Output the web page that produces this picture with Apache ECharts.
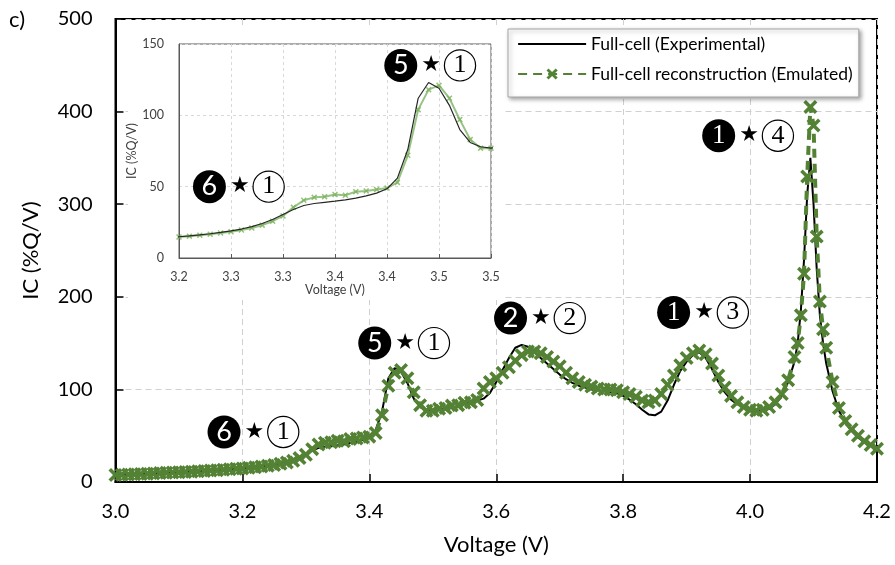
<!DOCTYPE html>
<html>
<head>
<meta charset="utf-8">
<script src="https://cdn.jsdelivr.net/npm/echarts@6/dist/echarts.min.js"></script>
<style>
  html, body { margin: 0; padding: 0; background: #fff; }
  #chart { width: 895px; height: 565px; }
</style>
</head>
<body>
<div id="chart"></div>
<script>
// Incremental capacity of the full cell, experimental vs emulated reconstruction
const voltage = [
  3.00, 3.01, 3.02, 3.03, 3.04, 3.05, 3.06, 3.07, 3.08, 3.09,
  3.10, 3.11, 3.12, 3.13, 3.14, 3.15, 3.16, 3.17, 3.18, 3.19,
  3.20, 3.21, 3.22, 3.23, 3.24, 3.25, 3.26, 3.27, 3.28, 3.29,
  3.30, 3.31, 3.32, 3.33, 3.34, 3.35, 3.36, 3.37, 3.38, 3.39,
  3.40, 3.41, 3.42, 3.43, 3.44, 3.45, 3.46, 3.47, 3.48, 3.49,
  3.50, 3.51, 3.52, 3.53, 3.54, 3.55, 3.56, 3.57, 3.58, 3.59,
  3.60, 3.61, 3.62, 3.63, 3.64, 3.65, 3.66, 3.67, 3.68, 3.69,
  3.70, 3.71, 3.72, 3.73, 3.74, 3.75, 3.76, 3.77, 3.78, 3.79,
  3.80, 3.81, 3.82, 3.83, 3.84, 3.85, 3.86, 3.87, 3.88, 3.89,
  3.90, 3.91, 3.92, 3.93, 3.94, 3.95, 3.96, 3.97, 3.98, 3.99,
  4.00, 4.01, 4.02, 4.03, 4.04, 4.05, 4.06,
  4.07, 4.075, 4.08, 4.085, 4.09, 4.095, 4.10, 4.105, 4.11, 4.115, 4.12,
  4.13, 4.14, 4.15, 4.16, 4.17, 4.18, 4.19, 4.20,
  4.20
];

// Full-cell (Experimental), %Q/V
const icExperimental = [
  7.5, 7.8, 8.1, 8.4, 8.7, 9.0, 9.3, 9.6, 9.9, 10.2,
  10.5, 10.9, 11.3, 11.7, 12.1, 12.5, 12.9, 13.3, 13.8, 14.3,
  14.9, 15.5, 16.2, 17.0, 17.9, 19.0, 20.3, 22.0, 24.2, 27.0,
  30.5, 34.0, 36.8, 38.2, 39.0, 39.8, 40.8, 42.0, 43.5, 45.5,
  48.5, 56.0, 76.0, 112.0, 123.0, 119.0, 107.0, 90.0, 81.0, 78.0,
  77.0, 78.0, 79.0, 80.5, 82.0, 84.0, 86.0, 88.0, 90.0, 96.0,
  108, 121, 134, 145, 148, 146, 140, 134, 128, 122,
  116, 111, 107, 104, 102, 100, 99, 98, 97, 96,
  93, 89, 84, 78, 73, 72, 76, 88, 105, 120,
  130, 137, 140, 134, 122, 108, 97, 89, 84, 80,
  78, 77, 77, 79, 84, 93, 108,
  130, 150, 185, 240, 310, 350, 300, 230, 180, 150, 128,
  98, 77, 64, 55, 48, 43, 39, 35,
  0
];

// Full-cell reconstruction (Emulated), %Q/V
const icEmulated = [
  7.5, 7.8, 8.1, 8.4, 8.7, 9.0, 9.3, 9.6, 9.9, 10.2,
  10.5, 10.9, 11.2, 11.6, 12.0, 12.4, 12.8, 13.2, 13.7, 14.2,
  14.7, 15.3, 16.0, 16.7, 17.5, 18.4, 19.6, 21.0, 23.0, 25.8,
  29.5, 35.5, 40.5, 42.5, 43.0, 44.5, 44.0, 46.5, 47.0, 48.0,
  49.0, 53.0, 72.0, 104.0, 118.0, 121.0, 112.0, 97.0, 83.0, 77.0,
  77.0, 79.0, 80.0, 82.5, 83.0, 85.5, 86.0, 88.5, 101.0, 108.0,
  112, 118, 124, 131, 137, 141, 141, 139, 135, 130,
  125, 118, 112, 108, 105, 103, 101, 100, 100, 99,
  97, 95, 92, 88, 86, 88, 95, 105, 115, 126,
  134, 139, 142, 138, 128, 115, 102, 93, 86, 81,
  78, 77, 78, 81, 86, 95, 110,
  135, 150, 180, 225, 330, 405, 385, 265, 195, 165, 145,
  108, 80, 66, 57, 50, 44, 40, 36,
  null
];

const mainYTicks = [0, 100, 200, 300, 400, 500];
const insetTickLabels = ['3.2', '3.3', '3.3', '3.4', '3.4', '3.5', '3.5'];

// Peak labels: black-circled index, star, open-circled index
const mainAnnotations = [
  { v: 3.2165, ic: 54, dark: '6', open: '1', serif: false },
  { v: 3.454, ic: 150, dark: '5', open: '1', serif: false },
  { v: 3.668, ic: 177, dark: '2', open: '2', serif: false },
  { v: 3.925, ic: 183, dark: '1', open: '3', serif: true },
  { v: 3.996, ic: 374, dark: '1', open: '4', serif: true }
];
const insetAnnotations = [
  { v: 3.441, ic: 135, dark: '5', open: '1', serif: false },
  { v: 3.257, ic: 50, dark: '6', open: '1', serif: false }
];

const GREEN = '#548235';
const FONT = 'Lato, "Liberation Sans", sans-serif';
const crossSymbol = 'path://M0,1.8L1.8,0L5,3.2L8.2,0L10,1.8L6.8,5L10,8.2L8.2,10L5,6.8L1.8,10L0,8.2L3.2,5Z';

const pairs = ys => voltage.map((v, i) => [v, ys[i]]);

const badgeRich = {
  k:  { backgroundColor: '#000', color: '#fff', width: 33, height: 33, lineHeight: 33,
        borderRadius: 16.5, align: 'center', fontSize: 27, fontFamily: FONT },
  ks: { backgroundColor: '#000', color: '#fff', width: 33, height: 33, lineHeight: 33,
        borderRadius: 16.5, align: 'center', fontSize: 27, fontFamily: '"Liberation Serif", serif' },
  s:  { color: '#000', fontSize: 22, padding: [0, 4, 0, 4], fontFamily: '"DejaVu Sans", sans-serif' },
  w:  { backgroundColor: '#fff', color: '#000', width: 30, height: 30, lineHeight: 30,
        borderRadius: 16, borderColor: '#000', borderWidth: 1.2, align: 'center',
        fontSize: 26, fontFamily: '"Liberation Serif", serif' }
};

function annotationSeries(list, xi, yi) {
  return {
    type: 'scatter',
    xAxisIndex: xi, yAxisIndex: yi,
    z: 30,
    silent: true,
    symbolSize: 1,
    itemStyle: { color: 'rgba(0,0,0,0)', opacity: 1 },
    data: list.map(a => ({ value: [a.v, a.ic], dark: a.dark, open: a.open, serif: a.serif })),
    label: {
      show: true,
      position: 'inside',
      opacity: 1,
      formatter: p => '{' + (p.data.serif ? 'ks' : 'k') + '|' + p.data.dark + '}{s|★}{w|' + p.data.open + '}',
      rich: badgeRich
    }
  };
}

const chart = echarts.init(document.getElementById('chart'), null, { renderer: 'canvas' });

chart.setOption({
  animation: false,
  backgroundColor: '#fff',
  textStyle: { fontFamily: FONT },
  graphic: [
    { type: 'text', left: 9, top: 9, z: 40,
      style: { text: 'c)', fontSize: 22, fontFamily: FONT, fill: '#000' } },
    { type: 'rect', z: 5, silent: true,
      shape: { x: 128, y: 28, width: 375, height: 272 },
      style: { fill: '#fff' } }
  ],
  legend: {
    left: 508, top: 29,
    orient: 'vertical',
    data: [
      { name: 'Full-cell (Experimental)', itemStyle: { opacity: 0 } },
      { name: 'Full-cell reconstruction (Emulated)' }
    ],
    itemWidth: 68, itemHeight: 14, itemGap: 12,
    padding: [6, 6, 14, 9],
    lineStyle: { width: 2.2 },
    backgroundColor: '#fff',
    borderColor: '#a6a6a6', borderWidth: 1,
    shadowColor: 'rgba(0,0,0,0.35)', shadowBlur: 4, shadowOffsetX: 2, shadowOffsetY: 2,
    textStyle: { fontSize: 17.5, color: '#000', fontFamily: FONT },
    z: 35
  },
  grid: [
    { left: 115.5, top: 19, right: 18, bottom: 83, show: true,
      borderColor: '#000', borderWidth: 2, backgroundColor: 'rgba(0,0,0,0)' },
    { left: 179, top: 44, width: 312, height: 214, show: true, z: 10,
      borderColor: '#595959', borderWidth: 1, backgroundColor: '#fff' }
  ],
  xAxis: [
    {
      type: 'value', gridIndex: 0, min: 3.0, max: 4.2, interval: 0.2,
      name: 'Voltage (V)', nameLocation: 'middle', nameGap: 52,
      nameTextStyle: { fontSize: 22, color: '#000', fontFamily: FONT },
      axisLine: { show: true, onZero: false, lineStyle: { color: '#000', width: 2 } },
      axisTick: { show: true, inside: true, length: 8, lineStyle: { color: '#000', width: 1.5 } },
      axisLabel: { fontSize: 20, color: '#000', margin: 20, formatter: v => v.toFixed(1) },
      splitLine: { show: true, lineStyle: { color: '#d0d0d0', type: [6, 4], width: 1 } }
    },
    {
      type: 'value', gridIndex: 1, min: 3.2, max: 3.5, interval: 0.05, z: 10,
      name: 'Voltage (V)', nameLocation: 'middle', nameGap: 25,
      nameTextStyle: { fontSize: 12.5, color: '#404040', fontFamily: FONT },
      axisLine: { show: true, onZero: false, lineStyle: { color: '#595959', width: 1 } },
      axisTick: { show: true, inside: true, length: 4, lineStyle: { color: '#595959' } },
      axisLabel: { fontSize: 12.5, color: '#404040', margin: 12,
                   formatter: (v, i) => insetTickLabels[i] },
      splitLine: { show: true, lineStyle: { color: '#d9d9d9', type: [3, 3], width: 1 } }
    }
  ],
  yAxis: [
    {
      type: 'value', gridIndex: 0, min: mainYTicks[0], max: mainYTicks[mainYTicks.length - 1], interval: 100,
      name: 'IC (%Q/V)', nameLocation: 'middle', nameGap: 74,
      nameTextStyle: { fontSize: 22, color: '#000', fontFamily: FONT },
      axisLine: { show: true, onZero: false, lineStyle: { color: '#000', width: 2 } },
      axisTick: { show: true, inside: true, length: 8, lineStyle: { color: '#000', width: 1.5 } },
      axisLabel: { fontSize: 20, color: '#000', margin: 23 },
      splitLine: { show: true, lineStyle: { color: '#d0d0d0', type: [6, 4], width: 1 } }
    },
    {
      type: 'value', gridIndex: 1, min: 0, max: 150, interval: 50, z: 10,
      name: 'IC (%Q/V)', nameLocation: 'middle', nameGap: 30,
      nameTextStyle: { fontSize: 12.5, color: '#404040', fontFamily: FONT },
      axisLine: { show: true, onZero: false, lineStyle: { color: '#595959', width: 1 } },
      axisTick: { show: false },
      axisLabel: { fontSize: 12.5, color: '#404040', margin: 15 },
      splitLine: { show: true, lineStyle: { color: '#d9d9d9', type: [3, 3], width: 1 } }
    }
  ],
  series: [
    {
      name: 'Full-cell (Experimental)',
      type: 'line', xAxisIndex: 0, yAxisIndex: 0, z: 3,
      data: pairs(icExperimental),
      showSymbol: false, symbol: 'none',
      lineStyle: { color: '#000', width: 2 },
      itemStyle: { color: '#000' }
    },
    {
      name: 'Full-cell reconstruction (Emulated)',
      type: 'line', xAxisIndex: 0, yAxisIndex: 0, z: 4,
      data: pairs(icEmulated),
      symbol: crossSymbol, symbolSize: 14, showAllSymbol: true,
      lineStyle: { color: GREEN, width: 4, type: [9, 6] },
      itemStyle: { color: GREEN }
    },
    {
      name: 'inset-emulated',
      type: 'line', xAxisIndex: 1, yAxisIndex: 1, z: 12,
      data: pairs(icEmulated),
      symbol: crossSymbol, symbolSize: 6, showAllSymbol: true,
      lineStyle: { color: '#6aa84f', width: 2, opacity: 0.7 },
      itemStyle: { color: '#7cb25a', opacity: 0.8 }
    },
    {
      name: 'inset-experimental',
      type: 'line', xAxisIndex: 1, yAxisIndex: 1, z: 13,
      data: pairs(icExperimental),
      showSymbol: false, symbol: 'none',
      lineStyle: { color: '#262626', width: 1.2 }
    },
    annotationSeries(mainAnnotations, 0, 0),
    annotationSeries(insetAnnotations, 1, 1)
  ]
});
</script>
</body>
</html>
